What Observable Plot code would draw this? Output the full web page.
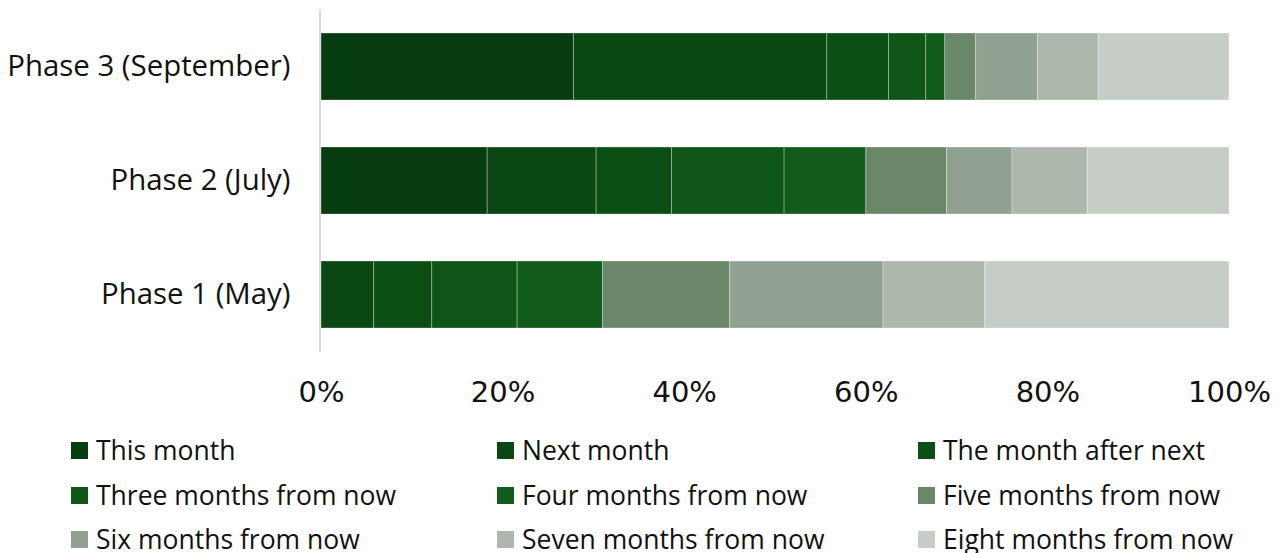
<!DOCTYPE html>
<html>
<head>
<meta charset="utf-8">
<script src="https://cdn.jsdelivr.net/npm/d3@7"></script>
<script src="https://cdn.jsdelivr.net/npm/@observablehq/plot@0.6"></script>
<style>
  html, body { margin: 0; padding: 0; background: #fff; }
  #chart { width: 1283px; height: 553px; position: relative; overflow: hidden; }
  #legend { position: absolute; left: 0; top: 428px; width: 1283px; font-family: "Open Sans", sans-serif; font-size: 26.5px; color: #111; }
  .item { position: absolute; height: 45px; display: flex; align-items: center; white-space: nowrap; line-height: 0.88; }
  .sw { width: 17px; height: 17px; margin-right: 8px; flex: none; }
</style>
</head>
<body>
<div id="chart"></div>
<script>
const phases = ["Phase 3 (September)", "Phase 2 (July)", "Phase 1 (May)"];
const series = ["This month", "Next month", "The month after next", "Three months from now", "Four months from now", "Five months from now", "Six months from now", "Seven months from now", "Eight months from now"];
const colors = ["#073b10", "#0a4713", "#0c4f15", "#0f5518", "#115c1a", "#6b876a", "#91a191", "#adb8ad", "#c6cdc6"];
// percentages per phase, in series order
const phase3 = [27.8, 27.9, 6.8, 4.1, 2.1, 3.4, 6.8, 6.7, 14.4];
const phase2 = [18.3, 12.0, 8.3, 12.4, 9.0, 8.9, 7.2, 8.3, 15.6];
const phase1 = [0, 5.8, 6.4, 9.4, 9.4, 14.0, 16.9, 11.2, 26.9];
const xTicks = [0, 20, 40, 60, 80, 100];

const valuesByPhase = [phase3, phase2, phase1];
const data = [];
series.forEach((s, i) => {
  phases.forEach((p, j) => {
    data.push({phase: p, series: s, value: valuesByPhase[j][i]});
  });
});

const chart = Plot.plot({
  width: 1283,
  height: 410,
  marginLeft: 321,
  marginRight: 54,
  marginTop: 10,
  marginBottom: 58,
  style: {fontFamily: "'Open Sans', sans-serif", color: "#111", background: "#fff"},
  x: {domain: [0, 100]},
  y: {domain: phases, paddingInner: 0.41, paddingOuter: 0.205, align: 0.5},
  color: {domain: series, range: colors},
  marks: [
    Plot.ruleX([0], {dx: -1.5, stroke: "#d9d9d9", strokeWidth: 2}),
    Plot.barX(data, Plot.stackX({x: "value", y: "phase", fill: "series", stroke: "white", strokeOpacity: 0.3, strokeWidth: 1})),
    Plot.axisX({ticks: xTicks, tickFormat: d => d + "%", tickSize: 0, tickPadding: 29, fontSize: 29, fontFamily: "'DejaVu Sans', sans-serif", label: null, fill: "#111"}),
    Plot.axisY({tickSize: 0, tickPadding: 31, fontSize: 29.4, label: null, fill: "#111"})
  ]
});
document.getElementById("chart").appendChild(chart);

const legend = document.createElement("div");
legend.id = "legend";
const colX = [71, 497, 918];
series.forEach((s, i) => {
  const item = document.createElement("div");
  item.className = "item";
  item.style.left = colX[i % 3] + "px";
  item.style.top = (Math.floor(i / 3) * 44.7) + "px";
  const sw = document.createElement("span");
  sw.className = "sw";
  sw.style.background = colors[i];
  const t = document.createElement("span");
  t.textContent = s;
  item.appendChild(sw);
  item.appendChild(t);
  legend.appendChild(item);
});
document.getElementById("chart").appendChild(legend);
</script>
</body>
</html>
